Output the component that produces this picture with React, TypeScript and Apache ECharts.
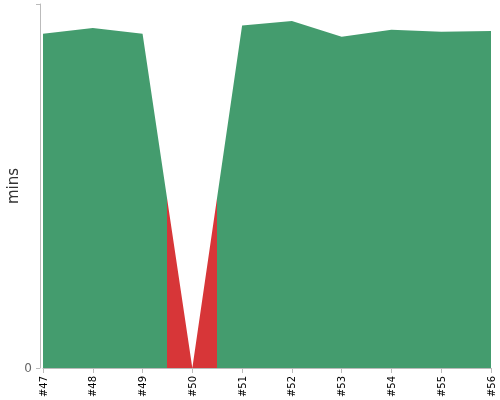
import React, { useEffect, useRef } from "react";
import * as echarts from "echarts";

const builds = [47, 48, 49, 50, 51, 52, 53, 54, 55, 56];
const durations = [91.8, 93.4, 91.8, 0, 94.1, 95.3, 91.0, 92.9, 92.4, 92.6];
const failedRange = [49.5, 50.5];
const yMax = 100;

export default function App() {
  const ref = useRef<HTMLDivElement>(null);
  useEffect(() => {
    if (!ref.current) return;
    const chart = echarts.init(ref.current, null, { renderer: "svg" });
    chart.setOption({
      animation: false,
      grid: { left: 43, right: 9, top: 4, bottom: 32, outerBoundsMode: "none", containLabel: false },
      xAxis: {
        type: "value",
        min: builds[0],
        max: builds[builds.length - 1],
        interval: 1,
        offset: 4,
        splitLine: { show: false },
        axisLine: { lineStyle: { color: "#bbb" } },
        axisTick: { length: 5, lineStyle: { color: "#bbb" } },
        axisLabel: {
          rotate: 90,
          fontSize: 10,
          color: "#000",
          margin: 4,
          fontFamily: "DejaVu Sans",
          formatter: (v: number) => "#" + v,
        },
      },
      yAxis: {
        type: "value",
        min: 0,
        max: yMax,
        interval: yMax,
        offset: 3,
        name: "mins",
        nameLocation: "middle",
        nameGap: 20,
        nameMoveOverlap: false,
        nameTextStyle: { fontSize: 15, color: "#333", fontFamily: "DejaVu Sans" },
        axisLine: { show: true, lineStyle: { color: "#bbb" } },
        axisTick: { show: true, length: 4, lineStyle: { color: "#bbb" } },
        splitLine: { show: false },
        axisLabel: {
          fontSize: 12,
          color: "#666",
          margin: 8,
          fontFamily: "DejaVu Sans",
          formatter: (v: number) => (v === 0 ? "0" : ""),
        },
      },
      visualMap: {
        show: false,
        dimension: 0,
        seriesIndex: 0,
        pieces: [{ gte: failedRange[0], lte: failedRange[1], color: "#d73638" }],
        outOfRange: { color: "#449c6e" },
      },
      series: [
        {
          type: "line",
          data: builds.map((b, i) => [b, durations[i]]),
          showSymbol: false,
          lineStyle: { width: 0 },
          areaStyle: { opacity: 1 },
        },
      ],
    });
    return () => chart.dispose();
  }, []);
  return (
    <div
      ref={ref}
      style={{ position: "fixed", left: 0, top: 0, width: 500, height: 400 }}
    />
  );
}
